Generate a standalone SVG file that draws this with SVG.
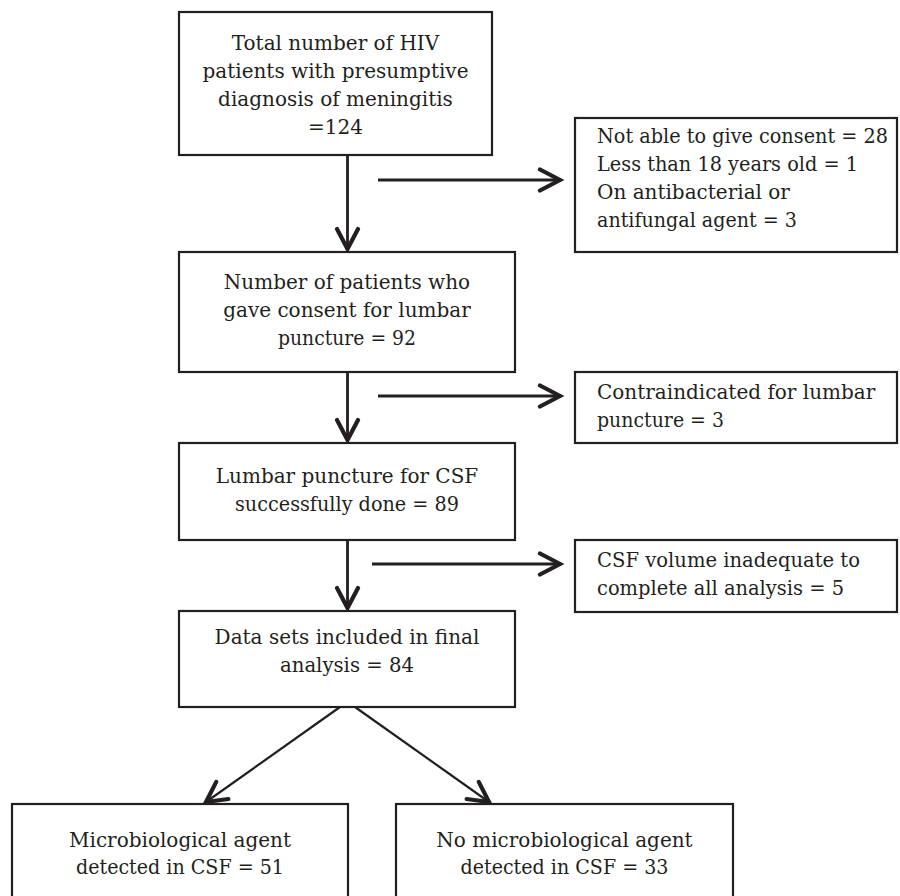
<svg xmlns="http://www.w3.org/2000/svg" width="900" height="896" viewBox="0 0 900 896">
<defs>
<style>
.box{fill:#fff;stroke:#231f20;stroke-width:2.2}
.t{font-family:"DejaVu Serif","Liberation Serif",serif;font-size:20px;fill:#231f20}
.c{text-anchor:middle}
.ln{stroke:#231f20;stroke-width:2.8;fill:none}
.dg{stroke:#231f20;stroke-width:2.2;fill:none}
</style>
<marker id="chev" markerUnits="userSpaceOnUse" viewBox="-26 -15 30 30" refX="0" refY="0" markerWidth="30" markerHeight="30" orient="auto">
<path d="M-20,-10.5 L0,0 L-20,10.5" fill="none" stroke="#231f20" stroke-width="4.2" stroke-linecap="round" stroke-linejoin="miter"/>
</marker>
</defs>
<rect width="900" height="896" fill="#fff"/>
<g id="connectors">
<line class="ln" x1="347.5" y1="155" x2="347.5" y2="249" marker-end="url(#chev)"/>
<line class="ln" x1="378" y1="180" x2="560" y2="180" marker-end="url(#chev)"/>
<line class="ln" x1="347.5" y1="372" x2="347.5" y2="440" marker-end="url(#chev)"/>
<line class="ln" x1="378" y1="396" x2="560" y2="396" marker-end="url(#chev)"/>
<line class="ln" x1="347.5" y1="540" x2="347.5" y2="608" marker-end="url(#chev)"/>
<line class="ln" x1="372" y1="564" x2="560" y2="564" marker-end="url(#chev)"/>
<line class="dg" x1="340" y1="707" x2="206" y2="802" marker-end="url(#chev)"/>
<line class="dg" x1="355" y1="707" x2="489" y2="802" marker-end="url(#chev)"/>
</g>
<g id="n1">
<rect class="box" x="179" y="12" width="313" height="143"/>
<text class="t c" x="335.5" y="50">Total number of HIV</text>
<text class="t c" x="335.5" y="78">patients with presumptive</text>
<text class="t c" x="335.5" y="106">diagnosis of meningitis</text>
<text class="t c" x="335.5" y="134">=124</text>
</g>
<g id="r1">
<rect class="box" x="575" y="118" width="322" height="134"/>
<text class="t" x="597" y="143" textLength="291" lengthAdjust="spacingAndGlyphs">Not able to give consent = 28</text>
<text class="t" x="597" y="171" textLength="261" lengthAdjust="spacingAndGlyphs">Less than 18 years old = 1</text>
<text class="t" x="597" y="199">On antibacterial or</text>
<text class="t" x="597" y="227" textLength="200" lengthAdjust="spacingAndGlyphs">antifungal agent = 3</text>
</g>
<g id="n2">
<rect class="box" x="179" y="252" width="336" height="120"/>
<text class="t c" x="347" y="289">Number of patients who</text>
<text class="t c" x="347" y="317">gave consent for lumbar</text>
<text class="t c" x="347" y="345" textLength="138" lengthAdjust="spacingAndGlyphs">puncture = 92</text>
</g>
<g id="r2">
<rect class="box" x="575" y="372" width="322" height="71"/>
<text class="t" x="597" y="399">Contraindicated for lumbar</text>
<text class="t" x="597" y="427" textLength="127" lengthAdjust="spacingAndGlyphs">puncture = 3</text>
</g>
<g id="n3">
<rect class="box" x="179" y="443" width="336" height="97"/>
<text class="t c" x="347" y="483">Lumbar puncture for CSF</text>
<text class="t c" x="347" y="511" textLength="224" lengthAdjust="spacingAndGlyphs">successfully done = 89</text>
</g>
<g id="r3">
<rect class="box" x="575" y="540" width="322" height="72"/>
<text class="t" x="597" y="567" textLength="263" lengthAdjust="spacingAndGlyphs">CSF volume inadequate to</text>
<text class="t" x="597" y="595" textLength="247" lengthAdjust="spacingAndGlyphs">complete all analysis = 5</text>
</g>
<g id="n4">
<rect class="box" x="179" y="611" width="336" height="96"/>
<text class="t c" x="347" y="644">Data sets included in final</text>
<text class="t c" x="347" y="672" textLength="134" lengthAdjust="spacingAndGlyphs">analysis = 84</text>
</g>
<g id="b1">
<rect class="box" x="12" y="804" width="336" height="100"/>
<text class="t c" x="180" y="847">Microbiological agent</text>
<text class="t c" x="180" y="874" textLength="208" lengthAdjust="spacingAndGlyphs">detected in CSF = 51</text>
</g>
<g id="b2">
<rect class="box" x="396" y="804" width="337" height="100"/>
<text class="t c" x="564.5" y="847">No microbiological agent</text>
<text class="t c" x="564.5" y="874" textLength="208" lengthAdjust="spacingAndGlyphs">detected in CSF = 33</text>
</g>
</svg>
